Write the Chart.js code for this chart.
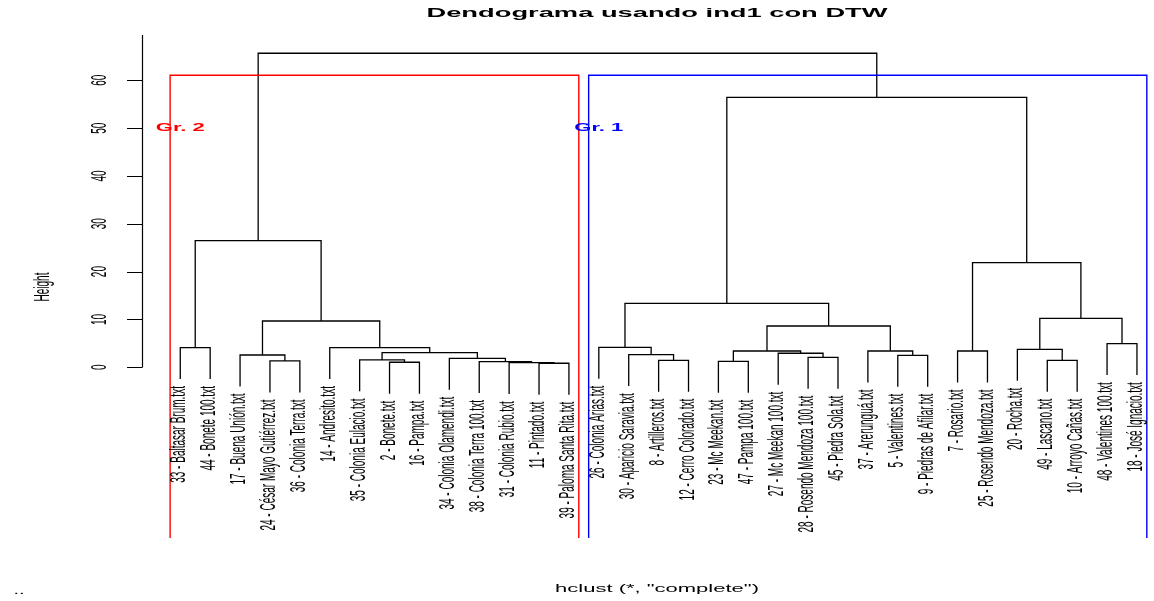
<!DOCTYPE html>
<html>
<head>
<meta charset="utf-8">
<title>Dendograma usando ind1 con DTW</title>
<script src="https://cdn.jsdelivr.net/npm/chart.js@4.4.0/dist/chart.umd.min.js"></script>
<style>
  html, body { margin: 0; padding: 0; background: #fff; }
  #wrap { width: 1154px; height: 601px; position: relative; }
</style>
</head>
<body>
<div id="wrap"><canvas id="dendro"></canvas></div>
<script>
const leafLabels = [
  '33 - Baltasar Brum.txt', '44 - Bonete 100.txt', '17 - Buena Unión.txt',
  '24 - César Mayo Gutiérrez.txt', '36 - Colonia Terra.txt', '14 - Andresito.txt',
  '35 - Colonia Eulacio.txt', '2 - Bonete.txt', '16 - Pampa.txt',
  '34 - Colonia Olamendi.txt', '38 - Colonia Terra 100.txt', '31 - Colonia Rubio.txt',
  '11 - Pintado.txt', '39 - Paloma Santa Rita.txt', '26 - Colonia Arias.txt',
  '30 - Aparicio Saravia.txt', '8 - Artilleros.txt', '12 - Cerro Colorado.txt',
  '23 - Mc Meekan.txt', '47 - Pampa 100.txt', '27 - Mc Meekan 100.txt',
  '28 - Rosendo Mendoza 100.txt', '45 - Piedra Sola.txt', '37 - Arerunguá.txt',
  '5 - Valentines.txt', '9 - Piedras de Afilar.txt', '7 - Rosario.txt',
  '25 - Rosendo Mendoza.txt', '20 - Rocha.txt', '49 - Lascano.txt',
  '10 - Arroyo Cañas.txt', '48 - Valentines 100.txt', '18 - José Ignacio.txt'
];

// merge rows like R's hclust: negative = leaf position, positive = earlier row (1-based)
const mergeLeft  = [-13, -12, -8, -11, -4, -19, -17, -30, -7, -10, -22, -25, -3, -16, -21, 9,
                    6, -24, -27, -29, -6, -1, -15, -32, 17, 13, 20, 23, 19, 22, 28, 30];
const mergeRight = [-14, 1, -9, 2, -5, -20, -18, -31, 3, 4, -23, -26, 5, 7, 11, 10,
                    15, 12, -28, 8, 16, -2, 14, -33, 18, 21, 24, 25, 27, 26, 29, 31];
const mergeHeight = [0.84, 0.96, 1.05, 1.17, 1.32, 1.25, 1.46, 1.46, 1.53, 1.88, 2.09, 2.51,
                     2.57, 2.63, 2.93, 3.05, 3.41, 3.41, 3.41, 3.76, 4.10, 4.10, 4.18, 4.93,
                     8.63, 9.68, 10.24, 13.38, 21.87, 26.47, 56.45, 65.65];

const groupNames = ['Gr. 2', 'Gr. 1'];
const groupSizes = [14, 19];
const groupColors = ['#ff0000', '#0000ff'];
const groupLabelHeight = 50;

const yTicks = [0, 10, 20, 30, 40, 50, 60];

const yMin = -35.69, yMax = 69.47;
const hang = 0.1 * Math.max(...mergeHeight);

// x of every merge node, built while walking the rows
const nodeX = [];
const leafHeight = [];
const xOf = ref => ref < 0 ? -ref : nodeX[ref - 1];
const bottomOf = (ref, h) => ref < 0 ? h - hang : mergeHeight[ref - 1];

const treeSets = mergeHeight.map((h, i) => {
  const l = mergeLeft[i], r = mergeRight[i];
  const xl = xOf(l), xr = xOf(r);
  nodeX.push((xl + xr) / 2);
  if (l < 0) leafHeight[-l - 1] = h;
  if (r < 0) leafHeight[-r - 1] = h;
  return {
    data: [
      { x: xl, y: bottomOf(l, h) }, { x: xl, y: h },
      { x: xr, y: h }, { x: xr, y: bottomOf(r, h) }
    ],
    showLine: true,
    borderColor: '#000',
    borderWidth: 1.3,
    pointRadius: 0,
    order: 2
  };
});

const sortedH = [...mergeHeight].sort((a, b) => b - a);
const cutHeight = (sortedH[0] + sortedH[1]) / 2;

let start = 1;
const groupStarts = [];
const rectSets = groupSizes.map((n, g) => {
  const x0 = start - 0.34, x1 = start + n - 1 + 0.33;
  groupStarts.push(start);
  start += n;
  return {
    data: [{ x: x0, y: yMin }, { x: x0, y: cutHeight }, { x: x1, y: cutHeight }, { x: x1, y: yMin }],
    showLine: true,
    borderColor: groupColors[g],
    borderWidth: 1.4,
    pointRadius: 0,
    order: 1
  };
});

// R style text: stretched wide, labels turned upright
const textPlugin = {
  id: 'rtext',
  afterDraw(chart) {
    const c = chart.ctx, xs = chart.scales.x, ys = chart.scales.y, area = chart.chartArea;
    const put = (txt, x, y, opt) => {
      c.save();
      c.translate(x, y);
      if (opt.up) c.rotate(-Math.PI / 2);
      c.scale(opt.sx || 1, opt.sy || 1);
      c.font = opt.font;
      c.fillStyle = opt.color || '#000';
      c.textAlign = opt.align || 'center';
      c.textBaseline = opt.base || 'middle';
      c.fillText(txt, 0, 0);
      c.restore();
    };
    const plain = '10px "Liberation Sans", Arial, sans-serif';
    const bold = 'bold 10px "Liberation Sans", Arial, sans-serif';

    // y axis
    const y0 = ys.getPixelForValue(0);
    c.save();
    c.strokeStyle = '#000';
    c.lineWidth = 1.2;
    c.beginPath();
    c.moveTo(area.left + 0.5, area.top);
    c.lineTo(area.left + 0.5, y0);
    yTicks.forEach(t => {
      const py = Math.round(ys.getPixelForValue(t)) + 0.5;
      c.moveTo(area.left - 15, py);
      c.lineTo(area.left + 0.5, py);
    });
    c.stroke();
    c.restore();
    yTicks.forEach(t => {
      put(String(t), 100, ys.getPixelForValue(t), { font: plain, up: true, sy: 2.2 });
    });
    put('Height', 43, 287, { font: plain, up: true, sy: 2.2 });

    // leaf labels
    leafLabels.forEach((lab, i) => {
      const py = ys.getPixelForValue(leafHeight[i] - hang) + 7;
      put(lab, xs.getPixelForValue(i + 1) - 1, py, { font: plain, up: true, sy: 2.2, align: 'right' });
    });

    // group labels
    groupNames.forEach((g, k) => {
      put(g, xs.getPixelForValue(groupStarts[k]), ys.getPixelForValue(groupLabelHeight),
        { font: bold, sx: 2.2, color: groupColors[k] });
    });

    put('Dendograma usando ind1 con DTW', 657, 17,
      { font: 'bold 13px "Liberation Sans", Arial, sans-serif', sx: 2.1, base: 'alphabetic' });
    put('hclust (*, "complete")', 657, 592, { font: plain, sx: 2.2, base: 'alphabetic' });
    put('..', 19, 594, { font: plain, sx: 2, base: 'alphabetic' });
  }
};

const ctx = document.getElementById('dendro').getContext('2d');
const dendro = new Chart(ctx, {
  type: 'scatter',
  data: { datasets: [...treeSets, ...rectSets] },
  options: {
    responsive: true,
    maintainAspectRatio: false,
    animation: false,
    layout: { padding: { left: 142, top: 35, right: 0, bottom: 63 } },
    scales: {
      x: { type: 'linear', min: -0.28, max: 33.57, display: false },
      y: { type: 'linear', min: yMin, max: yMax, display: false }
    },
    plugins: {
      legend: { display: false },
      tooltip: { enabled: false }
    }
  },
  plugins: [textPlugin]
});
</script>
</body>
</html>
